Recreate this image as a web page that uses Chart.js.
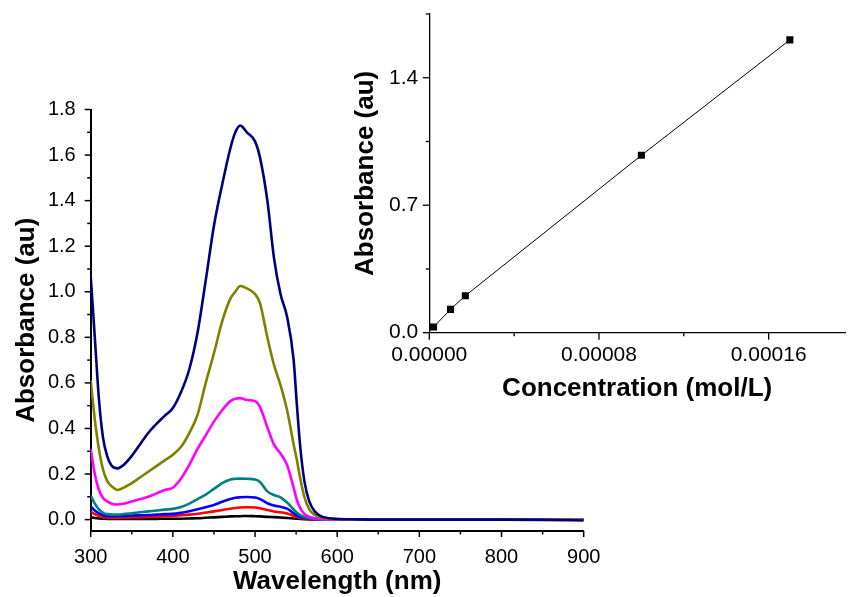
<!DOCTYPE html>
<html><head><meta charset="utf-8">
<script src="https://cdn.jsdelivr.net/npm/chart.js@4.4.0/dist/chart.umd.min.js"></script>
<style>
html,body{margin:0;padding:0;background:#fff;overflow:hidden;width:850px;height:597px;}
canvas{position:absolute;left:0;top:0;}
</style></head><body>
<canvas id="main" width="850" height="597"></canvas>
<canvas id="inset" width="850" height="597"></canvas>
<script>
// ---------- Main spectra data ----------
const wavelengths = [300,305,310,315,320,326,333,340,350,360,370,380,390,400,410,420,430,440,450,460,470,476,482,490,500,506,515,523,531,539,547,551,555,560,566,573,580,590,600,625,650,700,750,800,850,900];
const absNavy    = [1.07,0.80,0.53,0.36,0.28,0.235,0.225,0.24,0.28,0.33,0.38,0.42,0.455,0.49,0.56,0.66,0.82,1.05,1.29,1.47,1.63,1.70,1.73,1.70,1.66,1.59,1.40,1.15,0.99,0.89,0.70,0.50,0.32,0.17,0.08,0.035,0.015,0.006,0.003,0.001,0,0,0,0,-0.001,-0.004];
const absOlive   = [0.61,0.44,0.31,0.22,0.17,0.145,0.13,0.14,0.16,0.185,0.21,0.235,0.26,0.285,0.32,0.38,0.46,0.60,0.73,0.87,0.97,1.00,1.025,1.015,0.99,0.95,0.80,0.68,0.59,0.48,0.33,0.26,0.18,0.10,0.045,0.02,0.01,0.004,0.002,0,0,0,0,0,0,0];
const absMagenta = [0.31,0.20,0.13,0.095,0.08,0.07,0.066,0.07,0.08,0.09,0.10,0.115,0.13,0.14,0.18,0.24,0.31,0.37,0.43,0.48,0.52,0.53,0.533,0.525,0.52,0.495,0.405,0.33,0.29,0.24,0.14,0.085,0.05,0.025,0.012,0.006,0.003,0.001,0,0,0,0,0,0,0,0];
const absTeal    = [0.105,0.07,0.045,0.03,0.024,0.022,0.022,0.024,0.028,0.032,0.036,0.04,0.044,0.047,0.055,0.07,0.09,0.11,0.135,0.16,0.176,0.179,0.18,0.179,0.176,0.165,0.124,0.108,0.098,0.075,0.045,0.03,0.02,0.012,0.006,0.003,0.001,0,0,0,0,0,0,0,0,0];
const absBlue    = [0.058,0.04,0.027,0.02,0.016,0.015,0.015,0.016,0.018,0.019,0.02,0.022,0.024,0.025,0.03,0.037,0.045,0.054,0.064,0.078,0.09,0.096,0.098,0.099,0.097,0.09,0.072,0.062,0.056,0.048,0.028,0.018,0.012,0.007,0.004,0.002,0.001,0,0,0,0,0,0,0,0,0];
const absRed     = [0.035,0.024,0.016,0.011,0.009,0.008,0.008,0.009,0.01,0.011,0.012,0.013,0.015,0.016,0.019,0.022,0.026,0.031,0.036,0.042,0.048,0.051,0.053,0.054,0.053,0.05,0.042,0.036,0.032,0.027,0.017,0.011,0.007,0.004,0.002,0.001,0,0,0,0,0,0,0,0,0,0];
const absBlack   = [0.01,0.007,0.005,0.004,0.003,0.003,0.003,0.003,0.003,0.003,0.003,0.003,0.004,0.004,0.004,0.005,0.006,0.008,0.01,0.012,0.014,0.015,0.015,0.016,0.015,0.014,0.012,0.011,0.009,0.007,0.005,0.004,0.003,0.002,0.001,0.001,0,0,0,0,0,0,0,0,0,0];

const mainXTicks = [300,400,500,600,700,800,900];
const mainXMinor = [350,450,550,650,750,850];
const mainYTicks = [0.0,0.2,0.4,0.6,0.8,1.0,1.2,1.4,1.6,1.8];
const mainYMinor = [0.1,0.3,0.5,0.7,0.9,1.1,1.3,1.5,1.7];

// ---------- Inset calibration data ----------
const concentration = [0.000002,0.000010,0.000017,0.000100,0.000170];
const absorbance    = [0.031,0.128,0.203,0.974,1.608];
const insetXTicks = [0,0.00008,0.00016];
const insetXMinor = [0.00004,0.00012];
const insetYTicks = [0,0.7,1.4];
const insetYMinor = [0.35,1.05,1.75];

const FONT = "'Liberation Sans', Arial, sans-serif";

const tickMarksPlugin = {
  id: 'tickMarks',
  afterDraw(chart, args, opts) {
    const ctx = chart.ctx;
    ctx.save();
    ctx.strokeStyle = '#000';
    ctx.lineWidth = opts.width || 1.5;
    const axes = opts.axes || {};
    for (const id of Object.keys(axes)) {
      const scale = chart.scales[id];
      const spec = axes[id];
      const draw = (vals, len) => vals.forEach(v => {
        const p = scale.getPixelForValue(v);
        ctx.beginPath();
        if (scale.isHorizontal()) { ctx.moveTo(p, scale.top); ctx.lineTo(p, scale.top + len); }
        else { ctx.moveTo(scale.right, p); ctx.lineTo(scale.right - len, p); }
        ctx.stroke();
      });
      draw(spec.major, spec.majorLen);
      draw(spec.minor, spec.minorLen);
    }
    ctx.restore();
  }
};

function toPts(xs, ys) { return xs.map((x, i) => ({x: x, y: ys[i]})); }
function fixX(h) { return s => { s.height = h; s.paddingLeft = 0; s.paddingRight = 0; }; }
function fixY(w) { return s => { s.width = w; s.paddingTop = 0; s.paddingBottom = 0; }; }

const spectra = [
  {data: absNavy, color: '#00007f'},
  {data: absOlive, color: '#7f7f00'},
  {data: absMagenta, color: '#ff00ff'},
  {data: absTeal, color: '#008080'},
  {data: absBlue, color: '#0000ff'},
  {data: absRed, color: '#ff0000'},
  {data: absBlack, color: '#000000'}
];

new Chart(document.getElementById('main'), {
  type: 'line',
  data: {
    datasets: spectra.map(s => ({
      data: toPts(wavelengths, s.data),
      borderColor: s.color,
      borderWidth: 2.6,
      pointRadius: 0,
      fill: false,
      cubicInterpolationMode: 'monotone'
    }))
  },
  options: {
    responsive: false,
    animation: false,
    devicePixelRatio: 1,
    layout: {padding: {left: 0, top: 109.5, right: 266.3, bottom: 0}},
    plugins: {
      legend: {display: false},
      tooltip: {enabled: false},
      tickMarks: {width: 1.5, axes: {
        x: {major: mainXTicks, minor: mainXMinor, majorLen: 6, minorLen: 3.5},
        y: {major: mainYTicks, minor: mainYMinor, majorLen: 6, minorLen: 3.5}
      }}
    },
    scales: {
      x: {
        type: 'linear', min: 300, max: 900,
        afterBuildTicks: s => { s.ticks = mainXTicks.map(v => ({value: v})); },
        afterFit: fixX(66),
        grid: {display: false, drawTicks: false},
        border: {display: true, color: '#000', width: 2},
        ticks: {padding: 14, color: '#000', maxRotation: 0, autoSkip: false,
          font: {family: FONT, size: 20}, callback: v => String(v)},
        title: {display: true, text: 'Wavelength (nm)', color: '#000',
          font: {family: FONT, size: 26, weight: 'bold'}, padding: {top: 0, bottom: 0}}
      },
      y: {
        type: 'linear', min: -0.05, max: 1.8,
        afterBuildTicks: s => { s.ticks = mainYTicks.map(v => ({value: v})); },
        afterFit: fixY(90.7),
        grid: {display: false, drawTicks: false},
        border: {display: true, color: '#000', width: 2},
        ticks: {padding: 15, color: '#000', autoSkip: false,
          font: {family: FONT, size: 20}, callback: v => v.toFixed(1)},
        title: {display: true, text: 'Absorbance (au)', color: '#000',
          font: {family: FONT, size: 26, weight: 'bold'}, padding: {top: 11, bottom: 0}}
      }
    }
  },
  plugins: [tickMarksPlugin]
});

new Chart(document.getElementById('inset'), {
  type: 'line',
  data: {
    datasets: [{
      data: toPts(concentration, absorbance),
      borderColor: '#000',
      borderWidth: 1,
      backgroundColor: '#000',
      pointBackgroundColor: '#000',
      pointBorderColor: '#000',
      pointStyle: 'rect',
      pointRadius: 5,
      pointBorderWidth: 0,
      fill: false,
      tension: 0
    }]
  },
  options: {
    responsive: false,
    animation: false,
    devicePixelRatio: 1,
    layout: {padding: {left: 340, top: 14, right: 0, bottom: 192.3}},
    plugins: {
      legend: {display: false},
      tooltip: {enabled: false},
      tickMarks: {width: 1.3, axes: {
        x: {major: insetXTicks, minor: insetXMinor, majorLen: 7, minorLen: 3.5},
        y: {major: insetYTicks, minor: insetYMinor, majorLen: 6.5, minorLen: 3.5}
      }}
    },
    scales: {
      x: {
        type: 'linear', min: 0, max: 0.000196,
        afterBuildTicks: s => { s.ticks = insetXTicks.map(v => ({value: v})); },
        afterFit: fixX(72),
        grid: {display: false, drawTicks: false},
        border: {display: true, color: '#000', width: 1.3},
        ticks: {padding: 10, color: '#000', maxRotation: 0, autoSkip: false,
          font: {family: FONT, size: 21}, callback: v => v.toFixed(5)},
        title: {display: true, text: 'Concentration (mol/L)', color: '#000',
          font: {family: FONT, size: 26, weight: 'bold'}, padding: {top: 0, bottom: 0}}
      },
      y: {
        type: 'linear', min: 0, max: 1.75,
        afterBuildTicks: s => { s.ticks = insetYTicks.map(v => ({value: v})); },
        afterFit: fixY(89.3),
        grid: {display: false, drawTicks: false},
        border: {display: true, color: '#000', width: 1.3},
        ticks: {padding: 11, color: '#000', autoSkip: false,
          font: {family: FONT, size: 21}, callback: v => v.toFixed(1)},
        title: {display: true, text: 'Absorbance (au)', color: '#000',
          font: {family: FONT, size: 26, weight: 'bold'}, padding: {top: 10, bottom: 0}}
      }
    }
  },
  plugins: [tickMarksPlugin]
});
</script>
</body></html>
